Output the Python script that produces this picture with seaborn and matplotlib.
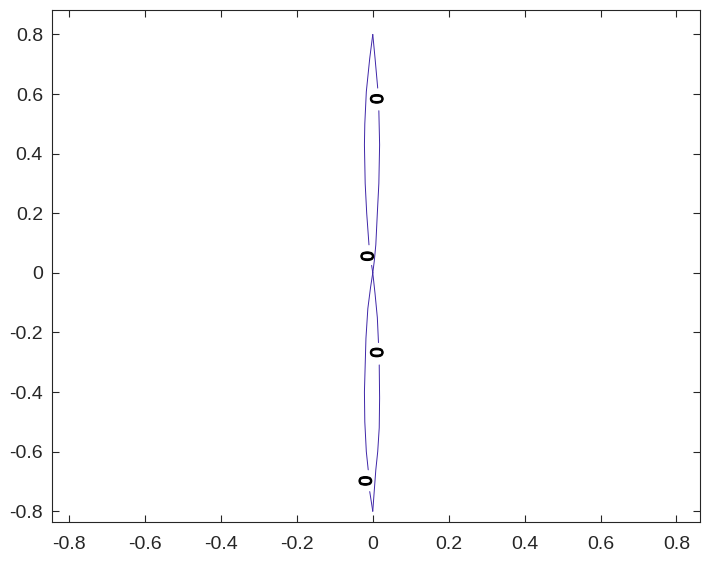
import matplotlib
matplotlib.use("Agg")
import matplotlib.pyplot as plt
import seaborn as sns
import pandas as pd

# Contour level 0 branches
seg1_x = [0.0, 0.006, 0.013]
seg1_y = [0.80, 0.72, 0.62]
seg2_x = [0.016, 0.018, 0.016, 0.012, 0.008, 0.004, 0.0]
seg2_y = [0.544, 0.43, 0.30, 0.20, 0.094, 0.04, 0.0]
seg3_x = [0.0, -0.008, -0.017, -0.021, -0.022, -0.020, -0.016, -0.010]
seg3_y = [0.80, 0.72, 0.608, 0.50, 0.43, 0.30, 0.20, 0.094]
seg4_x = [-0.003, 0.0]
seg4_y = [0.025, 0.0]
seg5_x = [0.0, 0.006, 0.012, 0.015]
seg5_y = [0.0, -0.07, -0.15, -0.234]
seg6_x = [0.017, 0.018, 0.017, 0.013, 0.008, 0.004, 0.0]
seg6_y = [-0.309, -0.42, -0.52, -0.60, -0.661, -0.73, -0.80]
seg7_x = [0.0, -0.006, -0.013, -0.018, -0.022, -0.021, -0.017, -0.012]
seg7_y = [0.0, -0.05, -0.12, -0.22, -0.40, -0.50, -0.60, -0.661]
seg8_x = [-0.008, 0.0]
seg8_y = [-0.734, -0.80]

label_x = [0.015, -0.010, 0.015, -0.015]
label_y = [0.584, 0.056, -0.267, -0.698]
label_text = ["0", "0", "0", "0"]

x_ticks = [-0.8, -0.6, -0.4, -0.2, 0, 0.2, 0.4, 0.6, 0.8]
y_ticks = [-0.8, -0.6, -0.4, -0.2, 0, 0.2, 0.4, 0.6, 0.8]
tick_labels = ["-0.8", "-0.6", "-0.4", "-0.2", "0", "0.2", "0.4", "0.6", "0.8"]

segs = [(seg1_x, seg1_y), (seg2_x, seg2_y), (seg3_x, seg3_y), (seg4_x, seg4_y),
        (seg5_x, seg5_y), (seg6_x, seg6_y), (seg7_x, seg7_y), (seg8_x, seg8_y)]
rows = []
for i, (xs, ys) in enumerate(segs):
    for order, (xv, yv) in enumerate(zip(xs, ys)):
        rows.append({"seg": i, "order": order, "x": xv, "y": yv})
df = pd.DataFrame(rows)

sns.set_style("white")
plt.rcParams["font.family"] = ["Liberation Sans", "DejaVu Sans"]

fig = plt.figure(figsize=(7.19, 5.78), dpi=100)
ax = fig.add_axes([0.0723, 0.0969, 0.9013, 0.8858])

sns.lineplot(data=df, x="x", y="y", units="seg", estimator=None, sort=False,
             color="#3e26a8", linewidth=0.7, ax=ax, legend=False)

for xv, yv, t in zip(label_x, label_y, label_text):
    ax.text(xv, yv, t, rotation=90, ha="center", va="center",
            fontsize=13, color="black", fontweight="normal",
            path_effects=[__import__("matplotlib.patheffects", fromlist=["x"]).withStroke(linewidth=0.8, foreground="black")])

ax.set_xlim(-0.845, 0.862)
ax.set_ylim(-0.836, 0.882)
ax.set_xticks(x_ticks)
ax.set_xticklabels(tick_labels)
ax.set_yticks(y_ticks)
ax.set_yticklabels(tick_labels)
ax.set_xlabel("")
ax.set_ylabel("")
ax.tick_params(direction="in", length=5, width=0.8, colors="#262626",
               labelsize=14, top=True, right=True, bottom=True, left=True)
ax.tick_params(axis="x", pad=10)
ax.tick_params(axis="y", pad=6.5)
for s in ax.spines.values():
    s.set_visible(True)
    s.set_color("#262626")
    s.set_linewidth(0.8)

fig.savefig("out.png", dpi=100)
